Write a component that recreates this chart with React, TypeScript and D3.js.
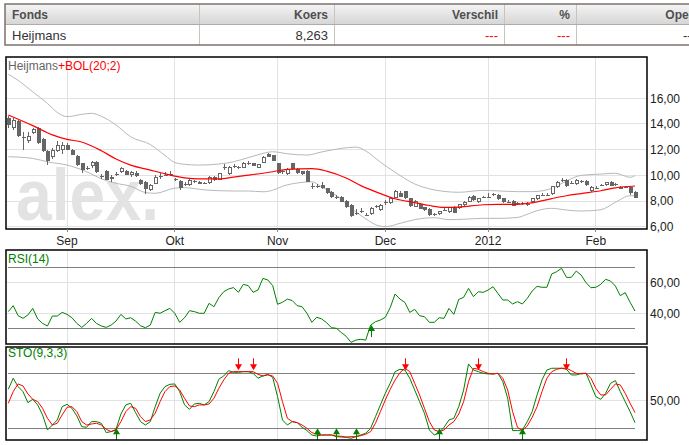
import * as d3 from 'd3';

// --- calendar ---
const firstTradingDay = '2011-08-16';
const exchangeClosed = ['2011-12-26'];
const tradingDayCount = 129;
const monthNames = ['Jan', 'Feb', 'Mrt', 'Apr', 'Mei', 'Jun', 'Jul', 'Aug', 'Sep', 'Okt', 'Nov', 'Dec'];

// --- quote table ---
const tableHeads = ['Fonds', 'Koers', 'Verschil', '%', 'Open'];
const tableCells = ['Heijmans', '8,263', '---', '---', '---'];

// --- candles (Heijmans, daily) ---
const opens = [
  14.5, 13.7, 14.25, 13.0, 12.7, 13.3, 13.65, 12.8, 11.9, 11.4,
  11.9, 11.95, 12.4, 12.0, 11.5, 10.95, 10.6, 10.7, 11.05, 9.95,
  10.35, 9.7, 10.05, 10.25, 10.35, 10.0, 10.2, 9.65, 9.5, 8.85,
  9.35, 9.9, 10.0, 10.05, 9.7, 9.55, 9.3, 9.25, 9.5, 9.5,
  9.35, 9.4, 9.85, 9.65, 10.6, 10.1, 10.7, 10.6, 10.6, 10.85,
  11.0, 10.6, 11.0, 11.65, 11.55, 10.95, 10.25, 10.1, 10.95, 10.5,
  10.3, 10.35, 9.1, 9.2, 9.25, 9.0, 8.7, 8.3, 8.35, 8.0,
  7.7, 7.05, 7.2, 6.9, 7.0, 7.55, 7.3, 7.9, 7.85, 8.25,
  8.6, 8.75, 8.2, 7.55, 7.8, 7.5, 7.4, 6.95, 7.0, 7.3,
  7.15, 7.55, 7.45, 7.7, 7.95, 8.4, 7.9, 8.25, 8.3, 8.5,
  8.5, 8.2, 7.95, 8.0, 7.8, 7.85, 7.75, 7.95, 8.15, 8.45,
  8.5, 8.55, 9.1, 9.6, 9.65, 9.35, 9.3, 9.5, 9.55, 8.75,
  9.05, 9.2, 9.25, 9.45, 9.3, 9.1, 9.1, 9.1, 8.7,
];
const highs = [
  14.6, 14.45, 14.3, 13.35, 13.4, 13.7, 13.75, 12.9, 11.95, 12.1,
  12.65, 12.6, 12.5, 12.05, 11.55, 11.0, 10.75, 11.1, 11.1, 10.1,
  10.4, 10.0, 10.25, 10.65, 10.45, 10.35, 10.3, 9.7, 9.55, 9.35,
  10.0, 10.15, 10.25, 10.3, 9.8, 9.6, 9.5, 9.7, 9.65, 9.55,
  9.5, 9.95, 9.95, 10.2, 10.9, 10.75, 10.9, 10.75, 11.05, 11.15,
  11.0, 10.9, 11.5, 11.75, 11.6, 11.0, 10.4, 10.55, 11.0, 10.55,
  10.35, 10.4, 9.4, 9.35, 9.5, 9.05, 8.75, 8.45, 8.4, 8.05,
  7.75, 7.35, 7.45, 7.1, 7.5, 7.7, 7.75, 8.1, 8.25, 8.85,
  8.75, 8.8, 8.25, 8.05, 7.85, 7.55, 7.45, 7.1, 7.25, 7.45,
  7.55, 7.6, 7.8, 8.0, 8.4, 8.45, 8.25, 8.4, 8.65, 8.65,
  8.55, 8.25, 8.05, 8.05, 7.95, 7.95, 7.9, 8.25, 8.5, 8.6,
  8.6, 9.2, 9.55, 9.8, 9.7, 9.55, 9.7, 9.65, 9.6, 9.15,
  9.15, 9.35, 9.5, 9.55, 9.4, 9.15, 9.15, 9.15, 8.75,
];
const lows = [
  13.7, 13.5, 12.95, 12.0, 12.5, 13.2, 12.45, 11.8, 10.8, 11.3,
  11.8, 11.7, 11.95, 11.55, 10.75, 10.15, 10.4, 10.6, 10.2, 9.75,
  9.6, 9.5, 9.95, 10.2, 10.0, 9.9, 9.9, 9.25, 8.55, 8.75,
  9.3, 9.75, 9.95, 9.95, 9.55, 8.85, 9.2, 9.2, 9.4, 9.3,
  9.3, 9.35, 9.55, 9.6, 10.45, 10.05, 10.6, 10.5, 10.55, 10.8,
  10.7, 10.55, 10.95, 11.4, 11.1, 10.1, 10.1, 10.0, 10.45, 10.1,
  10.05, 9.45, 8.95, 9.05, 8.95, 8.55, 8.2, 8.15, 7.9, 7.45,
  6.75, 6.9, 7.1, 6.8, 6.95, 7.45, 7.25, 7.7, 7.8, 8.2,
  8.3, 8.15, 7.55, 7.5, 7.35, 7.25, 6.85, 6.85, 6.95, 7.2,
  7.1, 7.05, 7.4, 7.65, 7.9, 8.0, 7.85, 8.2, 8.2, 8.4,
  8.1, 7.85, 7.85, 7.6, 7.7, 7.7, 7.6, 7.85, 8.1, 8.4,
  8.4, 8.5, 9.05, 9.5, 9.1, 9.3, 9.25, 9.4, 9.2, 8.7,
  8.95, 9.15, 9.2, 9.15, 9.2, 8.9, 9.0, 8.5, 8.2,
];
const closes = [
  13.9, 14.3, 13.05, 12.95, 13.05, 13.6, 12.5, 11.9, 11.1, 12.0,
  12.35, 12.35, 12.0, 11.6, 10.8, 10.4, 10.55, 11.05, 10.25, 9.9,
  9.65, 9.9, 10.1, 10.55, 10.05, 10.25, 9.95, 9.3, 8.95, 9.25,
  9.9, 9.95, 10.05, 10.1, 9.65, 9.0, 9.35, 9.6, 9.55, 9.35,
  9.4, 9.9, 9.6, 10.15, 10.65, 10.65, 10.75, 10.65, 11.0, 11.0,
  10.75, 10.9, 11.45, 11.45, 11.15, 10.15, 10.3, 10.5, 10.5, 10.15,
  10.1, 9.5, 9.15, 9.15, 9.0, 8.6, 8.35, 8.3, 7.95, 7.5,
  6.85, 7.05, 7.25, 6.95, 7.45, 7.6, 7.7, 7.95, 8.2, 8.8,
  8.35, 8.2, 7.6, 8.0, 7.4, 7.3, 6.9, 7.0, 7.2, 7.3,
  7.5, 7.1, 7.75, 7.95, 8.35, 8.1, 8.2, 8.3, 8.35, 8.55,
  8.15, 7.9, 7.95, 7.65, 7.85, 7.8, 7.75, 8.2, 8.45, 8.5,
  8.5, 9.15, 9.5, 9.65, 9.2, 9.4, 9.65, 9.55, 9.25, 9.1,
  9.05, 9.25, 9.45, 9.2, 9.3, 8.95, 9.05, 8.6, 8.263,
];

// --- Bollinger (20;2), read at [day, value] ---
const bolUpper: [number, number][] = [
  [0, 17.87], [2, 17.4], [5, 16.5], [8, 15.6], [10, 14.9], [12, 14.57], [15, 14.75], [17, 14.83],
  [19, 14.6], [22, 13.92], [25, 13.0], [29, 12.4], [32, 11.55], [34, 11.0], [36, 10.86], [39, 10.8],
  [43, 10.88], [46, 11.06], [49, 11.38], [51, 11.6], [54, 11.84], [57, 11.68], [61, 11.58], [64, 11.82],
  [68, 12.1], [71, 12.2], [73, 11.9], [76, 11.03], [79, 10.24], [83, 9.33], [86, 8.95], [89, 8.75],
  [92, 8.68], [97, 8.83], [100, 8.79], [104, 8.73], [107, 8.73], [111, 8.98], [114, 9.56], [117, 10.0],
  [121, 10.1], [124, 10.16], [127, 9.85], [128, 9.97],
];
const bolMiddle: [number, number][] = [
  [0, 14.7], [5, 13.87], [9, 13.15], [12, 12.8], [15, 12.6], [19, 11.92], [22, 11.27], [25, 10.8],
  [29, 10.41], [32, 10.12], [36, 9.8], [39, 9.72], [43, 9.72], [46, 9.86], [49, 10.01], [54, 10.28],
  [57, 10.47], [62, 10.52], [65, 10.33], [69, 9.79], [72, 9.2], [76, 8.58], [79, 8.18], [83, 7.88],
  [86, 7.65], [89, 7.5], [92, 7.53], [97, 7.71], [100, 7.74], [104, 7.74], [107, 7.86], [111, 8.19],
  [114, 8.41], [117, 8.58], [121, 8.8], [124, 9.03], [128, 9.17],
];
const bolLower: [number, number][] = [
  [0, 11.45], [5, 11.32], [8, 11.05], [12, 10.8], [16, 10.28], [19, 9.73], [22, 9.38], [25, 9.15],
  [28, 8.66], [30, 8.6], [34, 9.0], [36, 9.04], [40, 8.87], [46, 8.78], [49, 8.78], [52, 8.72],
  [54, 8.84], [56, 9.15], [60, 9.45], [62, 9.5], [64, 9.1], [68, 8.15], [70, 7.45], [73, 6.62],
  [75, 6.16], [77, 6.0], [80, 6.26], [83, 6.55], [87, 6.7], [90, 6.55], [93, 6.58], [97, 6.65],
  [100, 6.65], [104, 6.72], [106, 6.97], [108, 7.25], [111, 7.43], [114, 7.3], [117, 7.22], [121, 7.32],
  [124, 7.9], [127, 8.41], [128, 8.41],
];

// --- RSI(14) ---
const rsi14 = [
  41.1, 45.0, 38.5, 36.7, 38.9, 43.2, 36.3, 33.4, 31.7, 38.2,
  38.2, 40.6, 39.3, 37.1, 33.4, 30.8, 33.4, 36.7, 33.4, 31.7,
  30.8, 32.3, 34.9, 39.3, 36.3, 37.1, 34.9, 31.9, 30.6, 32.3,
  40.6, 40.0, 41.7, 43.2, 40.0, 34.1, 37.1, 41.7, 41.1, 40.0,
  40.0, 46.5, 44.3, 50.2, 54.1, 55.9, 56.8, 53.7, 58.9, 58.1,
  53.7, 55.2, 62.8, 61.8, 58.1, 45.9, 47.2, 49.3, 48.3, 45.0,
  44.3, 40.0, 34.1, 37.4, 36.3, 33.9, 30.6, 30.2, 27.5, 25.0,
  21.0, 22.5, 23.0, 22.5, 32.3, 34.5, 35.6, 37.4, 43.7, 52.6,
  49.3, 47.1, 40.6, 42.6, 38.4, 37.8, 34.1, 34.1, 37.1, 36.7,
  43.2, 39.3, 49.1, 50.4, 56.3, 50.9, 54.1, 53.7, 55.2, 57.4,
  53.0, 48.7, 48.7, 46.1, 47.6, 46.1, 49.8, 54.6, 57.6, 57.0,
  57.0, 65.7, 67.2, 69.4, 63.5, 63.5, 67.6, 65.0, 60.0, 56.7,
  57.0, 58.9, 62.2, 61.1, 57.8, 51.5, 53.5, 47.2, 41.5,
];
const rsiBuyDays = [74];

// --- STO(9,3,3) ---
const stoK = [
  62.5, 74.6, 65.5, 60.0, 48.0, 51.6, 45.5, 34.6, 18.2, 23.6,
  29.1, 43.6, 46.2, 41.8, 33.5, 21.8, 21.1, 27.3, 27.3, 25.5,
  15.3, 16.4, 18.9, 35.6, 45.5, 47.3, 37.1, 27.3, 23.6, 27.3,
  43.6, 58.2, 65.5, 68.0, 68.4, 60.0, 45.5, 40.7, 46.5, 47.3,
  45.5, 49.1, 60.0, 73.5, 77.1, 82.9, 81.1, 81.1, 81.8, 81.8,
  80.0, 74.6, 77.1, 78.9, 75.6, 54.5, 29.1, 23.6, 27.3, 26.2,
  21.1, 17.5, 12.7, 11.6, 12.7, 12.7, 12.7, 10.9, 10.5, 10.2,
  9.1, 10.9, 12.7, 14.6, 20.0, 32.7, 45.5, 58.2, 69.1, 81.8,
  84.4, 83.6, 74.6, 61.8, 49.1, 36.4, 18.2, 12.7, 15.3, 21.1,
  29.1, 30.9, 43.6, 61.8, 90.2, 83.6, 81.8, 80.0, 79.3, 79.3,
  80.0, 70.9, 52.7, 17.5, 17.5, 18.2, 27.3, 38.2, 56.4, 72.7,
  83.6, 85.5, 85.5, 85.5, 84.4, 78.2, 78.2, 80.0, 80.0, 67.3,
  54.5, 51.6, 58.2, 69.1, 72.0, 60.0, 49.1, 38.2, 26.2,
];
const stoD = [
  47.3, 60.0, 68.4, 66.2, 57.5, 51.6, 49.1, 41.8, 30.9, 23.6,
  25.5, 34.6, 42.9, 43.6, 38.2, 27.3, 23.6, 24.7, 25.5, 23.6,
  18.9, 16.4, 18.2, 27.3, 38.2, 43.6, 41.8, 32.7, 27.3, 29.1,
  36.4, 49.1, 60.0, 65.5, 66.2, 61.8, 52.7, 44.4, 43.6, 45.5,
  45.5, 46.5, 52.7, 63.6, 72.7, 80.0, 81.8, 81.8, 81.8, 81.8,
  81.8, 78.9, 77.1, 78.2, 77.1, 69.1, 49.1, 30.9, 27.3, 26.2,
  23.6, 20.0, 15.3, 13.5, 12.7, 12.7, 12.7, 11.6, 11.3, 10.5,
  10.9, 10.9, 12.0, 13.5, 16.4, 25.5, 38.2, 50.9, 62.5, 72.7,
  80.7, 85.5, 81.8, 69.1, 56.4, 41.8, 27.3, 18.2, 16.4, 18.2,
  23.6, 27.3, 35.6, 49.1, 70.9, 85.5, 84.4, 81.8, 80.0, 79.3,
  80.0, 74.6, 61.8, 38.2, 21.1, 17.5, 22.6, 32.0, 43.6, 60.0,
  74.6, 81.8, 84.4, 85.5, 85.5, 82.9, 80.0, 79.3, 80.0, 74.6,
  63.6, 56.4, 56.4, 62.5, 68.4, 67.3, 58.2, 47.3, 37.1,
];
const stoBuyDays = [22, 63, 67, 71, 88, 105];
const stoSellDays = [47, 50, 81, 96, 114];

// --- axis ticks ---
const priceTicks = [6, 8, 10, 12, 14, 16];
const rsiTicks = [40, 60];
const rsiLevels = [30, 70];
const stoTicks = [50];
const stoLevels = [20, 80];

const fmt = (v: number) => v.toFixed(2).replace('.', ',');

function tradingDays(start: string, count: number, closed: string[]) {
  const out: Date[] = [];
  const d = new Date(start + 'T12:00:00Z');
  while (out.length < count) {
    const dow = d.getUTCDay();
    const iso = d.toISOString().slice(0, 10);
    if (dow !== 0 && dow !== 6 && !closed.includes(iso)) out.push(new Date(d));
    d.setUTCDate(d.getUTCDate() + 1);
  }
  return out;
}

const FONT = '"Liberation Sans", Arial, sans-serif';
const GREEN = '#008000';
const CANDLE = '#666666';
const GRID = '#e2e2e2';
const LEVEL = '#808080';

// panel boxes
const left = 6;
const right = 647;
const main = { top: 57, bottom: 229 };
const rsiBox = { top: 250, bottom: 344 };
const stoBox = { top: 347, bottom: 440 };

export default function App() {
  const days = tradingDays(firstTradingDay, tradingDayCount, exchangeClosed);
  const n = days.length;

  const x = d3.scaleLinear().domain([0, n - 1]).range([8.3, 635]);
  const py = d3.scaleLinear().domain([6, 16]).range([226.7, 98.3]);
  const ry = d3.scaleLinear().domain([40, 60]).range([313.3, 282.7]);
  const sy = d3.scaleLinear().domain([20, 80]).range([428.3, 373.3]);

  const monthTicks = days
    .map((d, i) => ({ d, i }))
    .filter(({ d, i }) => i > 0 && d.getUTCMonth() !== days[i - 1].getUTCMonth())
    .map(({ d, i }) => ({
      i,
      label: d.getUTCMonth() === 0 ? String(d.getUTCFullYear()) : monthNames[d.getUTCMonth()],
    }));

  const bandLine = d3
    .line<[number, number]>()
    .x((d) => x(d[0]))
    .y((d) => py(d[1]))
    .curve(d3.curveMonotoneX);

  const rsiLine = d3
    .line<number>()
    .x((_, i) => x(i))
    .y((d) => ry(d));

  const stoLine = d3
    .line<number>()
    .x((_, i) => x(i))
    .y((d) => sy(d));

  const vGrid = (top: number, bottom: number) =>
    monthTicks.map((t) => (
      <line key={t.i} x1={x(t.i)} x2={x(t.i)} y1={top} y2={bottom} stroke={GRID} shapeRendering="crispEdges" />
    ));

  const hGrid = (ticks: number[], s: d3.ScaleLinear<number, number>) =>
    ticks.map((t) => (
      <line key={t} x1={left} x2={right} y1={s(t)} y2={s(t)} stroke={GRID} shapeRendering="crispEdges" />
    ));

  const yLabels = (ticks: number[], s: d3.ScaleLinear<number, number>) =>
    ticks.map((t) => (
      <text key={t} x={650} y={s(t)} dy="0.36em" fontSize={12} fill="#222">
        {fmt(t)}
      </text>
    ));

  const frame = (b: { top: number; bottom: number }) => (
    <rect x={left} y={b.top} width={right - left} height={b.bottom - b.top} fill="none" stroke="#000" strokeWidth={1.5} />
  );

  // the quote table runs past the right edge of the page, as in the original
  const colEdges = [5, 199, 334, 504, 576, 702];

  return (
    <div style={{ position: 'absolute', left: 0, top: 0 }}>
      <svg width={689} height={445} style={{ display: 'block', fontFamily: FONT }}>
        <defs>
          <linearGradient id="head" x1="0" y1="0" x2="0" y2="1">
            <stop offset="0" stopColor="#f5f5f5" />
            <stop offset="1" stopColor="#d6d6d6" />
          </linearGradient>
          <clipPath id="clipMain">
            <rect x={left} y={main.top} width={right - left} height={main.bottom - main.top} />
          </clipPath>
          <clipPath id="clipRsi">
            <rect x={left} y={rsiBox.top} width={right - left} height={rsiBox.bottom - rsiBox.top} />
          </clipPath>
          <clipPath id="clipSto">
            <rect x={left} y={stoBox.top} width={right - left} height={stoBox.bottom - stoBox.top} />
          </clipPath>
        </defs>

        {/* quote table */}
        <rect x={5} y={4} width={720} height={20} fill="url(#head)" />
        <rect x={5} y={24} width={720} height={21} fill="#fff" />
        {colEdges.slice(1, -1).map((e) => (
          <line key={e} x1={e} x2={e} y1={4} y2={45} stroke="#c8c4c2" shapeRendering="crispEdges" />
        ))}
        <line x1={5} x2={720} y1={24.5} y2={24.5} stroke="#b0aaa8" shapeRendering="crispEdges" />
        <rect x={5} y={4} width={720} height={41} fill="none" stroke="#7d726d" strokeWidth={1.5} />
        {tableHeads.map((h, i) => (
          <text
            key={h}
            x={i === 0 ? colEdges[0] + 7 : colEdges[i + 1] - 6}
            y={18.5}
            textAnchor={i === 0 ? 'start' : 'end'}
            fontSize={12}
            fontWeight="bold"
            fill="#4f4f4f"
          >
            {h}
          </text>
        ))}
        {tableCells.map((c, i) => (
          <text
            key={i}
            x={i === 0 ? colEdges[0] + 7 : colEdges[i + 1] - 6}
            y={39.5}
            textAnchor={i === 0 ? 'start' : 'end'}
            fontSize={13}
            fill={i === 2 || i === 3 ? '#ff0000' : '#333'}
          >
            {c}
          </text>
        ))}

        {/* price panel */}
        <g clipPath="url(#clipMain)">
          <text x={16} y={219.5} fontSize={72} fontWeight="bold" fill="#e3e3e3" textLength={143} lengthAdjust="spacingAndGlyphs">
            alex.
          </text>
          {vGrid(main.top, main.bottom)}
          {hGrid(priceTicks, py)}
          <path d={bandLine(bolUpper) ?? ''} fill="none" stroke="#b8b8b8" strokeWidth={1} />
          <path d={bandLine(bolLower) ?? ''} fill="none" stroke="#b8b8b8" strokeWidth={1} />
          {closes.map((c, i) => {
            const o = opens[i];
            const up = c >= o;
            const cx = Math.round(x(i));
            const top = py(Math.max(o, c));
            const h = Math.max(1, py(Math.min(o, c)) - top);
            return (
              <g key={i} shapeRendering="crispEdges">
                <line x1={cx + 0.5} x2={cx + 0.5} y1={py(highs[i])} y2={py(lows[i])} stroke={CANDLE} />
                <rect x={cx - 1} y={top} width={4} height={h} fill={CANDLE} />
                {up && h > 2 && <rect x={cx} y={top + 1} width={2} height={h - 2} fill="#fff" />}
              </g>
            );
          })}
          <path d={bandLine(bolMiddle) ?? ''} fill="none" stroke="#ff0000" strokeWidth={1.2} />
        </g>
        <text x={8} y={69.5} fontSize={12}>
          <tspan fill="#666">Heijmans</tspan>
          <tspan fill="#ff0000">+BOL(20;2)</tspan>
        </text>
        {frame(main)}
        {yLabels(priceTicks, py)}
        {monthTicks.map((t) => (
          <g key={t.i}>
            <line x1={x(t.i)} x2={x(t.i)} y1={main.bottom} y2={main.bottom + 3} stroke="#888" shapeRendering="crispEdges" />
            <text x={x(t.i)} y={244.5} textAnchor="middle" fontSize={12} fill="#222">
              {t.label}
            </text>
          </g>
        ))}

        {/* RSI panel */}
        <g clipPath="url(#clipRsi)">
          {vGrid(rsiBox.top, rsiBox.bottom)}
          {hGrid(rsiTicks, ry)}
          {rsiLevels.map((l) => (
            <line key={l} x1={x(0)} x2={x(n - 1)} y1={ry(l)} y2={ry(l)} stroke={LEVEL} shapeRendering="crispEdges" />
          ))}
          <path d={rsiLine(rsi14) ?? ''} fill="none" stroke={GREEN} strokeWidth={1} />
          {rsiBuyDays.map((d) => {
            const ax = Math.round(x(d)) + 0.5;
            const tip = ry(rsi14[d]);
            return (
              <g key={d}>
                <line x1={ax} x2={ax} y1={tip + 3} y2={tip + 12} stroke={GREEN} />
                <path d={`M${ax},${tip} l3.5,6 h-7 z`} fill={GREEN} />
              </g>
            );
          })}
        </g>
        <text x={8} y={263} fontSize={12} fill={GREEN}>
          RSI(14)
        </text>
        {frame(rsiBox)}
        {yLabels(rsiTicks, ry)}

        {/* STO panel */}
        <g clipPath="url(#clipSto)">
          {vGrid(stoBox.top, stoBox.bottom)}
          {hGrid(stoTicks, sy)}
          {stoLevels.map((l) => (
            <line key={l} x1={x(0)} x2={x(n - 1)} y1={sy(l)} y2={sy(l)} stroke={LEVEL} shapeRendering="crispEdges" />
          ))}
          <path d={stoLine(stoK) ?? ''} fill="none" stroke={GREEN} strokeWidth={1} />
          <path d={stoLine(stoD) ?? ''} fill="none" stroke="#ff0000" strokeWidth={1} />
          {stoBuyDays.map((d) => {
            const ax = Math.round(x(d)) + 0.5;
            const tip = sy(20);
            return (
              <g key={d}>
                <line x1={ax} x2={ax} y1={tip + 3} y2={tip + 12} stroke={GREEN} />
                <path d={`M${ax},${tip} l3.5,6 h-7 z`} fill={GREEN} />
              </g>
            );
          })}
          {stoSellDays.map((d) => {
            const ax = Math.round(x(d)) + 0.5;
            const tip = sy(80) - 3;
            return (
              <g key={d}>
                <line x1={ax} x2={ax} y1={tip - 12} y2={tip - 3} stroke="#ff0000" />
                <path d={`M${ax},${tip} l3.5,-6 h-7 z`} fill="#ff0000" />
              </g>
            );
          })}
        </g>
        <text x={8} y={357} fontSize={12} fill={GREEN}>
          STO(9,3,3)
        </text>
        {frame(stoBox)}
        {yLabels(stoTicks, sy)}
      </svg>
    </div>
  );
}
